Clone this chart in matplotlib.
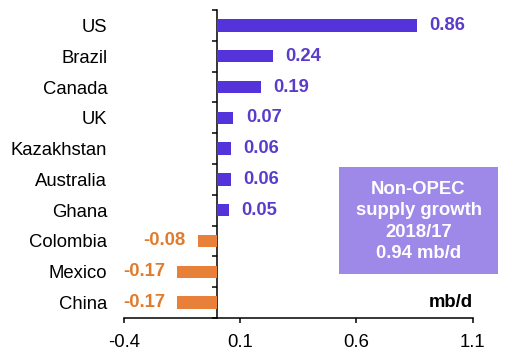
import matplotlib
matplotlib.use("Agg")
import matplotlib.pyplot as plt
from matplotlib.patches import Rectangle
import numpy as np

plt.rcParams['font.family'] = ['Liberation Sans', 'DejaVu Sans']

countries = ["US", "Brazil", "Canada", "UK", "Kazakhstan", "Australia", "Ghana",
             "Colombia", "Mexico", "China"]
values = [0.86, 0.24, 0.19, 0.07, 0.06, 0.06, 0.05, -0.08, -0.17, -0.17]
xticks = [-0.4, 0.1, 0.6, 1.1]
xtick_labels = ["-0.4", "0.1", "0.6", "1.1"]
box_text = "Non-OPEC\nsupply growth\n2018/17\n0.94 mb/d"
unit_text = "mb/d"

purple = "#5433DA"
purple_txt = "#5A3CCC"
orange = "#E8803A"
orange_txt = "#E07A2C"
box_color = "#9E88E8"

fs = 13.3

fig = plt.figure(figsize=(5.08, 3.58), dpi=100)
ax = fig.add_axes([124/508, 40/358, (472.7-124)/508, 308/358])

y = np.arange(len(countries))
colors = [purple if v >= 0 else orange for v in values]
ax.barh(y, values, height=0.4, color=colors)

for yi, v in zip(y, values):
    if v >= 0:
        ax.annotate(f"{v:.2f}", (v, yi), xytext=(9, 0), textcoords="offset points",
                    ha="left", va="center", fontsize=fs, fontweight="bold", color=purple_txt)
    else:
        ax.annotate(f"{v:.2f}", (v, yi), xytext=(-9, 0), textcoords="offset points",
                    ha="right", va="center", fontsize=fs, fontweight="bold", color=orange_txt)

ax.set_xlim(-0.4, 1.1)
ax.set_ylim(len(countries) - 0.5, -0.5)
ax.set_xticks(xticks)
ax.set_xticklabels(xtick_labels, fontsize=fs)
ax.set_yticks(y)
ax.set_yticklabels(countries, fontsize=fs)
ax.tick_params(axis="y", length=0, pad=12)
ax.tick_params(axis="x", length=3.6, width=1.1, pad=8, direction="out")

for s in ["top", "right", "left"]:
    ax.spines[s].set_visible(False)
ax.spines["bottom"].set_linewidth(1.1)

sec = ax.secondary_yaxis(0.4 / 1.5)
sec.set_yticks(np.arange(-0.5, len(countries), 1.0))
sec.set_yticklabels([])
sec.tick_params(length=3.6, width=1.1, direction="out")
sec.spines["left"].set_linewidth(1.1)

ax.text(1.0, 0.05, unit_text, transform=ax.transAxes, ha="right", va="center",
        fontsize=fs, fontweight="bold", color="black")

fig.patches.append(Rectangle((339/508, 84/358), 159/508, 107/358,
                             transform=fig.transFigure, facecolor=box_color,
                             edgecolor="none", zorder=5))
fig.text(418.5/508, 136.5/358, box_text, ha="center", va="center", fontsize=fs,
         fontweight="bold", color="white", linespacing=1.34, zorder=6)

fig.savefig("out.png", dpi=100)
